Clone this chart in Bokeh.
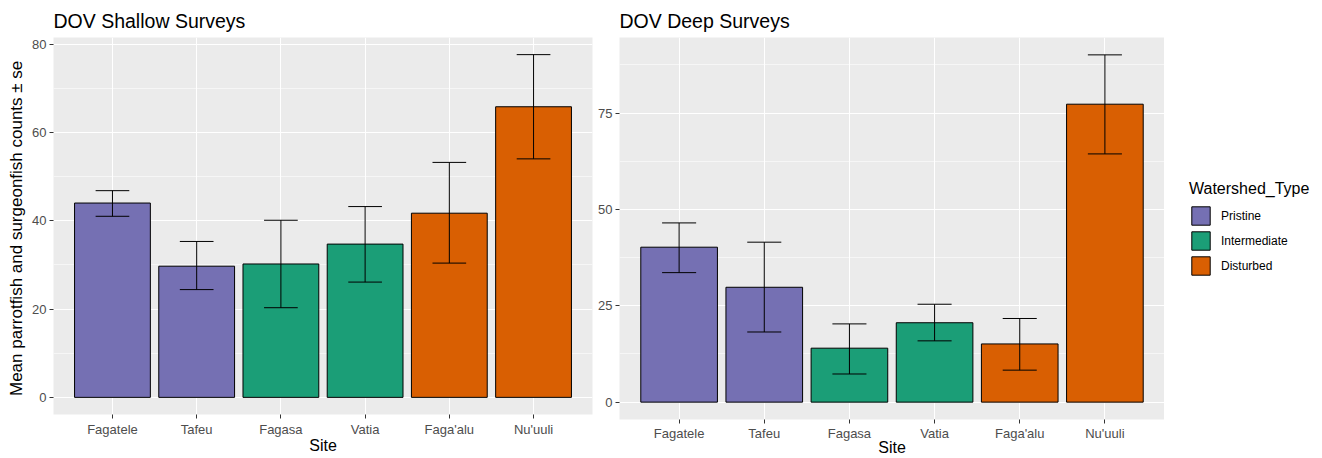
from bokeh.plotting import figure
from bokeh.models import ColumnDataSource, FactorRange, Range1d, FixedTicker, Legend, LegendItem
from bokeh.transform import dodge
from bokeh.layouts import row
from bokeh.embed import file_html
from bokeh.resources import INLINE

sites = ["Fagatele", "Tafeu", "Fagasa", "Vatia", "Faga'alu", "Nu'uuli"]
watershed = ["Pristine", "Pristine", "Intermediate", "Intermediate", "Disturbed", "Disturbed"]
watershed_order = ["Pristine", "Intermediate", "Disturbed"]

shallow_mean = [44.0, 29.7, 30.2, 34.7, 41.7, 65.8]
shallow_lower = [41.0, 24.4, 20.3, 26.1, 30.4, 54.0]
shallow_upper = [46.8, 35.3, 40.1, 43.2, 53.2, 77.6]

deep_mean = [40.2, 29.8, 14.0, 20.6, 15.1, 77.3]
deep_lower = [33.6, 18.2, 7.3, 15.9, 8.3, 64.4]
deep_upper = [46.5, 41.5, 20.3, 25.4, 21.7, 90.1]

shallow_ticks = [0, 20, 40, 60, 80]
shallow_minor = [10, 30, 50, 70]
deep_ticks = [0, 25, 50, 75]
deep_minor = [12.5, 37.5, 62.5, 87.5]

palette = {"Pristine": "#7570B3", "Intermediate": "#1B9E77", "Disturbed": "#D95F02"}

FONT = "Liberation Sans"
H = 458


def make_panel(title, means, lows, highs, ticks, minor, width, bl, br, bb,
               tick_standoff, label_standoff, ylabel=None):
    ymax = max(highs)
    pad = 0.05 * ymax
    p = figure(
        x_range=FactorRange(factors=sites, range_padding=0.2, range_padding_units="absolute"),
        y_range=Range1d(-pad, ymax + pad),
        width=width, height=H,
        output_backend="svg", toolbar_location=None, frame_align=False,
        min_border_left=bl, min_border_right=br, min_border_top=37, min_border_bottom=bb,
    )
    p.background_fill_color = "#EBEBEB"
    p.border_fill_color = "white"
    p.outline_line_color = None

    p.title.text = title
    p.title.text_font = FONT
    p.title.text_font_size = "19.5px"
    p.title.text_font_style = "normal"
    p.title.text_color = "black"
    p.title.align = "left"
    p.title.standoff = 12

    src = ColumnDataSource(dict(
        site=sites, mean=means, lo=lows, hi=highs,
        color=[palette[w] for w in watershed], ws=watershed,
    ))
    bars = p.vbar(x="site", top="mean", bottom=0, width=0.9, fill_color="color",
                  line_color="black", line_width=1, source=src)
    p.segment(x0="site", y0="lo", x1="site", y1="hi", line_color="black", line_width=1, source=src)
    for col in ("lo", "hi"):
        p.segment(x0=dodge("site", -0.2, range=p.x_range), y0=col,
                  x1=dodge("site", 0.2, range=p.x_range), y1=col,
                  line_color="black", line_width=1, source=src)

    p.yaxis.ticker = FixedTicker(ticks=ticks, minor_ticks=minor)
    for ax in (p.xaxis[0], p.yaxis[0]):
        ax.axis_line_color = None
        ax.major_tick_line_color = "#333333"
        ax.major_tick_out = 4
        ax.major_tick_in = 0
        ax.minor_tick_line_color = None
        ax.major_label_text_font = FONT
        ax.major_label_text_font_size = "13px"
        ax.major_label_text_color = "#4D4D4D"
        ax.major_label_standoff = 3
        ax.axis_label_text_font = FONT
        ax.axis_label_text_font_size = "16px"
        ax.axis_label_text_font_style = "normal"
        ax.axis_label_text_color = "black"
        ax.axis_label_standoff = 0
    p.xaxis.axis_label = "Site"
    p.xaxis.major_label_standoff = tick_standoff
    p.xaxis.axis_label_standoff = label_standoff
    if ylabel:
        p.yaxis.axis_label = ylabel
        p.yaxis.axis_label_standoff = 3
        p.yaxis.axis_label_text_font_size = "17px"

    p.xgrid.grid_line_color = "white"
    p.xgrid.grid_line_width = 1.1
    p.ygrid.grid_line_color = "white"
    p.ygrid.grid_line_width = 1.1
    p.ygrid.minor_grid_line_color = "white"
    p.ygrid.minor_grid_line_width = 0.55
    return p, bars


left, _ = make_panel("DOV Shallow Surveys", shallow_mean, shallow_lower, shallow_upper,
                     shallow_ticks, shallow_minor, 593, 53, 1, 44, 3, -3,
                     ylabel="Mean parrotfish and surgeonfish counts  \u00b1 se")
right, _ = make_panel("DOV Deep Surveys", deep_mean, deep_lower, deep_upper,
                      deep_ticks, deep_minor, 571, 26, 0, 0, 2, -5)

# legend panel: one swatch renderer per watershed type, its bar kept off-canvas
lg = figure(
    x_range=Range1d(0, 1), y_range=Range1d(0, 1),
    width=158, height=H, output_backend="svg", toolbar_location=None,
    x_axis_type=None, y_axis_type=None, frame_align=False,
    min_border_left=0, min_border_right=0, min_border_top=0, min_border_bottom=0,
)
lg.outline_line_color = None
lg.background_fill_color = "white"
lg.border_fill_color = "white"
lg.grid.visible = False

items = []
for w in watershed_order:
    r = lg.vbar(x=[10], top=[0.6], bottom=[0.4], width=0.1,
                fill_color=palette[w], line_color="black", line_width=1)
    items.append(LegendItem(label=w, renderers=[r]))

legend = Legend(items=items, location=(25, 181))
legend.title = "Watershed_Type"
legend.title_text_font = FONT
legend.title_text_font_size = "16px"
legend.title_text_font_style = "normal"
legend.title_text_color = "black"
legend.title_standoff = 6
legend.label_text_font = FONT
legend.label_text_font_size = "12px"
legend.label_text_color = "black"
legend.glyph_width = 23
legend.glyph_height = 23
legend.spacing = 2
legend.label_standoff = 9
legend.margin = 0
legend.padding = 10
legend.border_line_color = None
legend.background_fill_alpha = 0
lg.add_layout(legend)

layout = row(left, right, lg)
open("out.html", "w").write(file_html(layout, INLINE))
